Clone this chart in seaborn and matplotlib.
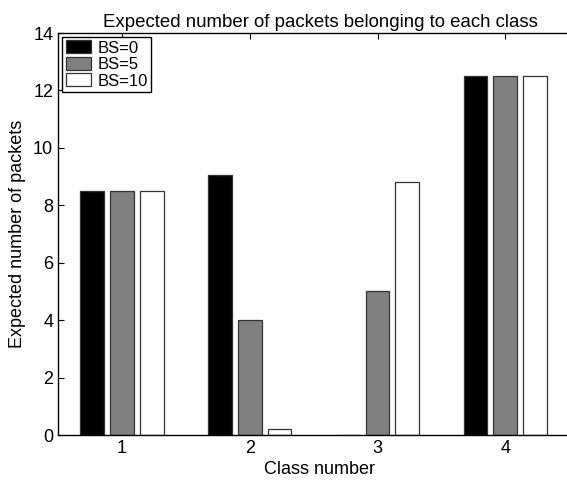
import matplotlib
matplotlib.use("Agg")
import matplotlib.pyplot as plt
import seaborn as sns
import pandas as pd

classes = ["1", "2", "3", "4"]
series = ["BS=0", "BS=5", "BS=10"]
bs0 = [8.5, 9.05, 0.0, 12.5]
bs5 = [8.5, 4.02, 5.0, 12.5]
bs10 = [8.5, 0.22, 8.8, 12.5]
colors = ["#000000", "#808080", "#ffffff"]

rows = []
for name, vals in zip(series, [bs0, bs5, bs10]):
    for c, v in zip(classes, vals):
        rows.append({"Class": c, "Series": name, "Value": v})
df = pd.DataFrame(rows)

sns.set_style("white")
plt.rcParams["font.family"] = ["Liberation Sans", "DejaVu Sans"]
plt.rcParams["text.color"] = "black"
plt.rcParams["axes.labelcolor"] = "black"

fig = plt.figure(figsize=(5.67, 4.86), dpi=100)
ax = fig.add_axes([58/567, 51/486, (582-58)/567, (435-33)/486])

sns.barplot(data=df, x="Class", y="Value", hue="Series", order=classes,
            hue_order=series, palette=colors, width=0.7, gap=0.2,
            edgecolor="#333333", linewidth=0.9, saturation=1, ax=ax)

ax.set_xlim(-0.5, 3.6)
ax.set_ylim(0, 14)
ax.set_yticks([0, 2, 4, 6, 8, 10, 12, 14])
ax.set_xlabel("Class number", fontsize=13, labelpad=3)
ax.set_ylabel("Expected number of packets", fontsize=13, labelpad=5)
ax.set_title("Expected number of packets belonging to each class", fontsize=13.4, pad=4)
ax.tick_params(direction="in", length=4, width=0.8, labelsize=13, top=True, right=True,
               bottom=True, left=True, colors="black")
for s in ax.spines.values():
    s.set_visible(True)
    s.set_color("black")
    s.set_linewidth(1.0)

leg = ax.legend(loc="upper left", fontsize=12, frameon=True, fancybox=False,
                edgecolor="black", framealpha=1, borderpad=0.2, labelspacing=0.08,
                handlelength=1.5, handleheight=0.8, handletextpad=0.4,
                borderaxespad=0.25)
leg.get_frame().set_linewidth(1.0)

fig.savefig("out.png", dpi=100)
